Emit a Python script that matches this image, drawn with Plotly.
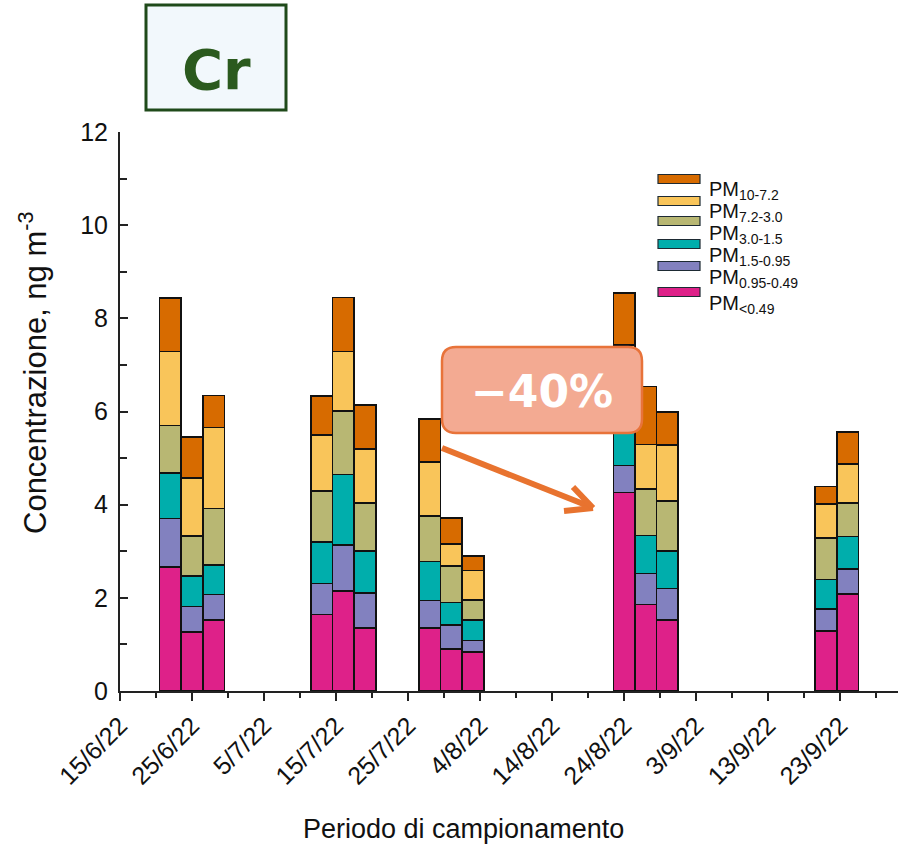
import plotly.graph_objects as go

# Sampling dates (centre of each 3-day sampling period)
dates = ["2022-06-22", "2022-06-25", "2022-06-28",
         "2022-07-13", "2022-07-16", "2022-07-19",
         "2022-07-28", "2022-07-31", "2022-08-03",
         "2022-08-24", "2022-08-27", "2022-08-30",
         "2022-09-21", "2022-09-24"]

# Cr concentration per size fraction, ng m-3 (stacked bottom to top)
pm_lt049 = [2.66, 1.27, 1.53, 1.64, 2.15, 1.35, 1.35, 0.90, 0.84, 4.26, 1.86, 1.52, 1.29, 2.08]
pm_095_049 = [1.04, 0.54, 0.54, 0.67, 0.98, 0.76, 0.59, 0.52, 0.24, 0.58, 0.66, 0.68, 0.47, 0.54]
pm_15_095 = [0.98, 0.66, 0.63, 0.89, 1.52, 0.90, 0.84, 0.48, 0.45, 1.01, 0.82, 0.81, 0.63, 0.70]
pm_30_15 = [1.02, 0.86, 1.22, 1.09, 1.36, 1.03, 0.98, 0.78, 0.43, 0.90, 0.99, 1.07, 0.89, 0.71]
pm_72_30 = [1.59, 1.24, 1.74, 1.20, 1.28, 1.15, 1.16, 0.48, 0.63, 0.68, 0.96, 1.20, 0.73, 0.84]
pm_10_72 = [1.15, 0.88, 0.68, 0.84, 1.16, 0.95, 0.92, 0.56, 0.31, 1.11, 1.25, 0.71, 0.38, 0.69]

series = [
    ("PM<sub>&lt;0.49</sub>", pm_lt049, "#DE2189"),
    ("PM<sub>0.95-0.49</sub>", pm_095_049, "#8281BF"),
    ("PM<sub>1.5-0.95</sub>", pm_15_095, "#00AEAC"),
    ("PM<sub>3.0-1.5</sub>", pm_30_15, "#B8B773"),
    ("PM<sub>7.2-3.0</sub>", pm_72_30, "#F9C55A"),
    ("PM<sub>10-7.2</sub>", pm_10_72, "#D76B00"),
]

# Plot-area geometry in pixels (used to place decorations)
W, H = 911, 849
L, R, T, B = 120, 898, 132, 691


def px(x):
    return (x - L) / (R - L)


def py(y):
    return (B - y) / (B - T)


BAR_MS = 3 * 24 * 3600 * 1000
FONT = "Liberation Sans, Arial"

fig = go.Figure()
for name, vals, col in series:
    fig.add_trace(go.Bar(
        x=dates, y=vals, name=name, width=[BAR_MS] * len(dates),
        marker=dict(color=col, line=dict(color="#111111", width=1.6)),
        showlegend=False,
    ))

shapes = []
annotations = []

# Hand-built legend: swatches top-to-bottom, labels beside them
legend_box_y = [179, 201, 221, 244, 266, 292]
legend_txt_y = [190, 212, 234, 256, 278, 304]
for i, (name, vals, col) in enumerate(reversed(series)):
    cy = legend_box_y[i]
    shapes.append(dict(type="rect", xref="paper", yref="paper",
                       x0=px(658), x1=px(700), y0=py(cy + 4.5), y1=py(cy - 4.5),
                       fillcolor=col, line=dict(color="#1d2a33", width=1.2), layer="above"))
for i, (name, vals, col) in enumerate(reversed(series)):
    annotations.append(dict(text=name, xref="paper", yref="paper",
                            x=px(707), y=py(legend_txt_y[i]), xanchor="left", yanchor="middle",
                            showarrow=False, font=dict(size=20, color="#111111", family=FONT)))

# Element label box
shapes.append(dict(type="rect", xref="paper", yref="paper",
                   x0=px(146), x1=px(286), y0=py(110), y1=py(5),
                   fillcolor="#F2F8FC", line=dict(color="#1F4A1A", width=3), layer="above"))
annotations.append(dict(text="<b>Cr</b>", xref="paper", yref="paper",
                        x=px(216), y=py(70), xanchor="center", yanchor="middle",
                        showarrow=False,
                        font=dict(size=56, color="#2B5A1E", family="DejaVu Sans")))

# "-40%" callout with rounded corners
bx0, bx1, by0, by1, rr = 442, 642, 347, 433, 14
path = (f"M {px(bx0 + rr)},{py(by0)} L {px(bx1 - rr)},{py(by0)} "
        f"Q {px(bx1)},{py(by0)} {px(bx1)},{py(by0 + rr)} "
        f"L {px(bx1)},{py(by1 - rr)} Q {px(bx1)},{py(by1)} {px(bx1 - rr)},{py(by1)} "
        f"L {px(bx0 + rr)},{py(by1)} Q {px(bx0)},{py(by1)} {px(bx0)},{py(by1 - rr)} "
        f"L {px(bx0)},{py(by0 + rr)} Q {px(bx0)},{py(by0)} {px(bx0 + rr)},{py(by0)} Z")
shapes.append(dict(type="path", xref="paper", yref="paper", path=path,
                   fillcolor="#F3AA92", line=dict(color="#E8733A", width=2.5), layer="above"))
annotations.append(dict(text="<b>\u221240%</b>", xref="paper", yref="paper",
                        x=px(542), y=py(391), xanchor="center", yanchor="middle",
                        showarrow=False,
                        font=dict(size=44, color="white", family="DejaVu Sans")))

# Arrow from the July group to the late-August group
ac = "#E8732F"
shapes.append(dict(type="line", xref="paper", yref="paper",
                   x0=px(442), y0=py(448), x1=px(591), y1=py(507),
                   line=dict(color=ac, width=6), layer="above"))
shapes.append(dict(type="line", xref="paper", yref="paper",
                   x0=px(564), y0=py(511), x1=px(593), y1=py(508),
                   line=dict(color=ac, width=6), layer="above"))
shapes.append(dict(type="line", xref="paper", yref="paper",
                   x0=px(573), y0=py(487), x1=px(593), y1=py(508),
                   line=dict(color=ac, width=6), layer="above"))

# Axis titles
annotations.append(dict(text="Periodo di campionamento", xref="paper", yref="paper",
                        x=px(463), y=py(829), xanchor="center", yanchor="middle",
                        showarrow=False, font=dict(size=27, color="#111111", family=FONT)))
annotations.append(dict(text="Concentrazione, ng m<sup>-3</sup>", xref="paper", yref="paper",
                        x=px(33), y=py(373), xanchor="center", yanchor="middle",
                        textangle=-90, showarrow=False,
                        font=dict(size=31, color="#111111", family=FONT)))

fig.update_layout(
    width=W, height=H,
    margin=dict(l=L, r=W - R, t=T, b=H - B, pad=0),
    barmode="stack",
    plot_bgcolor="white", paper_bgcolor="white",
    font=dict(family=FONT, color="#111111"),
    shapes=shapes, annotations=annotations,
    xaxis=dict(
        type="date", range=["2022-06-15", "2022-10-01"],
        tick0="2022-06-15", dtick=10 * 24 * 3600 * 1000,
        tickformat="%-d/%-m/%y", tickangle=-45,
        ticks="outside", ticklen=8, tickwidth=1.5, tickcolor="#222222",
        minor=dict(dtick=5 * 24 * 3600 * 1000, tick0="2022-06-15",
                   ticks="outside", ticklen=5, tickwidth=1.5, tickcolor="#222222"),
        showline=True, linecolor="#222222", linewidth=2,
        showgrid=False, zeroline=False,
        tickfont=dict(size=25, color="#111111"),
    ),
    yaxis=dict(
        range=[0, 12], tick0=0, dtick=2,
        ticks="inside", ticklen=8, tickwidth=1.5, tickcolor="#222222",
        minor=dict(dtick=1, ticks="inside", ticklen=7, tickwidth=1.5, tickcolor="#222222"),
        showline=True, linecolor="#222222", linewidth=2,
        showgrid=False, zeroline=False,
        ticklabelstandoff=5,
        tickfont=dict(size=25, color="#111111"),
    ),
)

fig.write_html("out.html")
